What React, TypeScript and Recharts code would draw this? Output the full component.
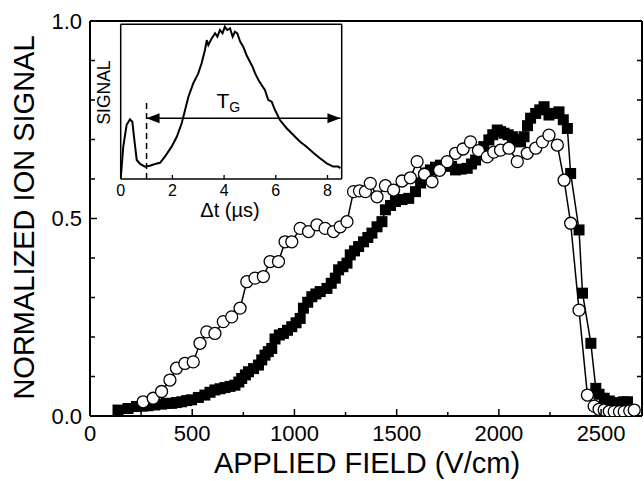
import React from "react"
import { LineChart, Line, XAxis, YAxis, ReferenceLine, Label } from "recharts"

const FONT = '"Liberation Sans", Arial, Helvetica, sans-serif'

// open circles
const circleField = [260, 309, 350, 391, 423, 464, 505, 538, 571, 611, 652, 693, 734, 767, 807, 848, 881, 922, 954, 987, 1028, 1069, 1110, 1150, 1191, 1224, 1257, 1289, 1318, 1347, 1371, 1404, 1445, 1485, 1526, 1567, 1600, 1636, 1673, 1710, 1747, 1788, 1825, 1861, 1900, 1943, 1975, 2008, 2049, 2090, 2139, 2180, 2213, 2245, 2286, 2319, 2351, 2392, 2433, 2466, 2490, 2515, 2540, 2564, 2590, 2613, 2640, 2662]
const circleSignal = [0.036, 0.045, 0.062, 0.091, 0.121, 0.133, 0.137, 0.184, 0.213, 0.209, 0.239, 0.251, 0.273, 0.34, 0.349, 0.353, 0.391, 0.391, 0.441, 0.441, 0.475, 0.467, 0.484, 0.475, 0.467, 0.479, 0.492, 0.568, 0.57, 0.568, 0.589, 0.555, 0.583, 0.572, 0.595, 0.603, 0.644, 0.612, 0.593, 0.622, 0.644, 0.665, 0.676, 0.694, 0.672, 0.656, 0.668, 0.673, 0.678, 0.644, 0.665, 0.678, 0.694, 0.711, 0.686, 0.597, 0.488, 0.268, 0.053, 0.025, 0.017, 0.015, 0.012, 0.011, 0.011, 0.011, 0.013, 0.015]

// filled squares
const squareField = [137, 186, 227, 256, 284, 317, 350, 374, 399, 423, 448, 473, 497, 530, 562, 587, 611, 636, 660, 685, 709, 728, 742, 760, 775, 800, 824, 840, 856, 872, 889, 905, 926, 946, 966, 987, 1008, 1028, 1044, 1065, 1085, 1105, 1126, 1159, 1180, 1200, 1216, 1237, 1257, 1273, 1294, 1314, 1338, 1359, 1379, 1404, 1428, 1445, 1470, 1494, 1526, 1559, 1592, 1617, 1633, 1649, 1665, 1690, 1714, 1747, 1768, 1788, 1815, 1845, 1866, 1886, 1906, 1926, 1951, 1970, 1992, 2008, 2025, 2045, 2066, 2086, 2106, 2123, 2140, 2155, 2180, 2200, 2221, 2245, 2270, 2294, 2315, 2335, 2351, 2392, 2409, 2450, 2474, 2490, 2515, 2540, 2564, 2590, 2610, 2629]
const squareSignal = [0.015, 0.019, 0.024, 0.025, 0.026, 0.028, 0.03, 0.032, 0.032, 0.034, 0.036, 0.039, 0.041, 0.047, 0.053, 0.06, 0.066, 0.069, 0.072, 0.075, 0.078, 0.086, 0.095, 0.104, 0.112, 0.12, 0.129, 0.142, 0.154, 0.163, 0.171, 0.195, 0.205, 0.209, 0.217, 0.226, 0.236, 0.247, 0.273, 0.288, 0.302, 0.309, 0.315, 0.323, 0.336, 0.349, 0.37, 0.378, 0.387, 0.408, 0.418, 0.429, 0.441, 0.452, 0.463, 0.479, 0.492, 0.522, 0.533, 0.543, 0.548, 0.551, 0.568, 0.59, 0.606, 0.615, 0.623, 0.63, 0.635, 0.64, 0.632, 0.623, 0.625, 0.627, 0.638, 0.648, 0.665, 0.682, 0.699, 0.712, 0.724, 0.72, 0.716, 0.712, 0.707, 0.7, 0.694, 0.707, 0.735, 0.754, 0.766, 0.775, 0.783, 0.762, 0.766, 0.77, 0.75, 0.728, 0.614, 0.471, 0.311, 0.184, 0.07, 0.055, 0.045, 0.038, 0.032, 0.034, 0.036, 0.036]

// inset: signal vs delta t (us)
const insetTime = [0, 0.1, 0.23, 0.36, 0.45, 0.53, 0.62, 0.75, 0.94, 1.13, 1.33, 1.52, 1.71, 1.84, 1.97, 2.17, 2.36, 2.49, 2.62, 2.81, 3.0, 3.13, 3.26, 3.33, 3.39, 3.52, 3.65, 3.74, 3.84, 3.94, 4.03, 4.12, 4.23, 4.33, 4.42, 4.51, 4.62, 4.74, 4.87, 5.0, 5.1, 5.2, 5.33, 5.45, 5.58, 5.71, 5.84, 5.97, 6.16, 6.42, 6.68, 6.94, 7.19, 7.45, 7.71, 7.97, 8.22, 8.42, 8.5]
const insetSignal = [0, 0.21, 0.35, 0.386, 0.37, 0.25, 0.123, 0.097, 0.08, 0.086, 0.097, 0.105, 0.144, 0.177, 0.209, 0.273, 0.36, 0.446, 0.532, 0.619, 0.683, 0.748, 0.834, 0.898, 0.866, 0.909, 0.942, 0.92, 0.963, 0.942, 0.985, 0.963, 0.974, 0.92, 0.952, 0.942, 0.888, 0.855, 0.8, 0.758, 0.726, 0.683, 0.64, 0.608, 0.575, 0.511, 0.5, 0.446, 0.381, 0.328, 0.284, 0.241, 0.209, 0.17, 0.134, 0.101, 0.08, 0.08, 0.069]

const fieldTicks = [0, 250, 500, 750, 1000, 1250, 1500, 1750, 2000, 2250, 2500]
const signalTicks = [0, 0.1, 0.2, 0.3, 0.4, 0.5, 0.6, 0.7, 0.8, 0.9, 1.0]
const insetTicks = [0, 2, 4, 6, 8]
const gateStart = 1
const gateEnd = 8.5
const gateLevel = 0.392

const circles = circleField.map((x, i) => ({ x, y: circleSignal[i] }))
const squares = squareField.map((x, i) => ({ x, y: squareSignal[i] }))
const trace = insetTime.map((t, i) => ({ t, s: insetSignal[i] }))

function FieldTick(props: any) {
  const { x, y, payload, side } = props
  const v = payload.value
  const major = v % 500 === 0
  const len = major ? 7 : 4
  const dir = side === "top" ? 1 : -1
  return (
    <g>
      <line x1={x} x2={x} y1={y} y2={y + dir * len} stroke="#000" strokeWidth={1.5} />
      {side === "bottom" && major && (
        <text x={x} y={y + 25} textAnchor="middle" fontSize={22} fontFamily={FONT} fill="#000">{v}</text>
      )}
    </g>
  )
}

function SignalTick(props: any) {
  const { x, y, payload, side } = props
  const v = payload.value
  const major = Math.abs(v * 2 - Math.round(v * 2)) < 1e-6
  const dir = side === "left" ? 1 : -1
  return (
    <g>
      <line x1={x} x2={x + dir * (major ? 7 : 5)} y1={y} y2={y} stroke="#000" strokeWidth={1.5} />
      {side === "left" && major && (
        <text x={x - 8} y={y} dy="0.36em" textAnchor="end" fontSize={22} fontFamily={FONT} fill="#000">{v.toFixed(1)}</text>
      )}
    </g>
  )
}

function InsetTick(props: any) {
  const { x, y, payload } = props
  return (
    <g>
      <line x1={x} x2={x} y1={y} y2={y - 4} stroke="#000" strokeWidth={1.3} />
      <text x={x} y={y + 16.5} textAnchor="middle" fontSize={16} fontFamily={FONT} fill="#000">{payload.value}</text>
    </g>
  )
}

const squareDot = (p: any) => (
  <rect key={`s${p.index}`} x={p.cx - 5.5} y={p.cy - 5.5} width={11} height={11} fill="#000" />
)
const circleDot = (p: any) => (
  <circle key={`c${p.index}`} cx={p.cx} cy={p.cy} r={6} fill="#fff" stroke="#000" strokeWidth={1.3} />
)

const gateArrow = (p: any) => {
  const { x1, y1, x2, y2 } = p
  return (
    <g>
      <line x1={x1} y1={y1} x2={x2} y2={y2} stroke="#000" strokeWidth={1.5} />
      <path d={`M${x1},${y1} L${x1 + 13},${y1 - 5} L${x1 + 13},${y1 + 5} Z`} fill="#000" />
      <path d={`M${x2},${y2} L${x2 - 13},${y2 - 5} L${x2 - 13},${y2 + 5} Z`} fill="#000" />
      <text x={(x1 + x2) / 2 - 27} y={y1 - 10} fontSize={21} fontFamily={FONT} fill="#000">
        T<tspan fontSize={14} dy={4}>G</tspan>
      </text>
    </g>
  )
}

const axisStyle = { stroke: "#000", strokeWidth: 2 }
const insetAxis = { stroke: "#000", strokeWidth: 1.5 }

export default function App() {
  return (
    <div style={{ position: "absolute", left: 0, top: 0, width: 644, height: 481, background: "#fff" }}>
      <div style={{ position: "absolute", left: 0, top: 0 }}>
        <LineChart width={644} height={481} margin={{ top: 0, right: 0, bottom: 0, left: 0 }}>
          <XAxis xAxisId="b" type="number" dataKey="x" domain={[0, 2700]} ticks={fieldTicks} interval={0}
            height={65} tickSize={0} tickMargin={0} tickLine={false} axisLine={axisStyle} allowDataOverflow
            tick={(p: any) => <FieldTick {...p} side="bottom" />}
            label={<Label content={() => (
              <text x={367} y={473} textAnchor="middle" fontSize={29} fontFamily={FONT} fill="#000">APPLIED FIELD (V/cm)</text>
            )} />} />
          <XAxis xAxisId="t" orientation="top" type="number" domain={[0, 2700]} ticks={fieldTicks} interval={0}
            height={21} tickSize={0} tickMargin={0} tickLine={false} axisLine={axisStyle} allowDataOverflow
            tick={(p: any) => <FieldTick {...p} side="top" />} />
          <YAxis yAxisId="l" type="number" domain={[0, 1]} ticks={signalTicks} interval={0}
            width={90} tickSize={0} tickMargin={0} tickLine={false} axisLine={axisStyle} allowDataOverflow
            tick={(p: any) => <SignalTick {...p} side="left" />}
            label={<Label content={() => (
              <text transform="translate(23.5,217.5) rotate(-90)" dy="0.36em" textAnchor="middle" fontSize={29} fontFamily={FONT} fill="#000">NORMALIZED ION SIGNAL</text>
            )} />} />
          <YAxis yAxisId="r" orientation="right" type="number" domain={[0, 1]} ticks={signalTicks} interval={0}
            width={2} tickSize={0} tickMargin={0} tickLine={false} axisLine={axisStyle} allowDataOverflow
            tick={(p: any) => <SignalTick {...p} side="right" />} />
          <Line data={squares} dataKey="y" xAxisId="b" yAxisId="l" type="linear" stroke="#000" strokeWidth={1.5}
            dot={squareDot} activeDot={false} isAnimationActive={false} />
          <Line data={circles} dataKey="y" xAxisId="b" yAxisId="l" type="linear" stroke="#000" strokeWidth={1.5}
            dot={circleDot} activeDot={false} isAnimationActive={false} />
        </LineChart>
      </div>
      <div style={{ position: "absolute", left: 80, top: 0 }}>
        <LineChart width={280} height={230} margin={{ top: 0, right: 0, bottom: 0, left: 0 }}>
          <XAxis xAxisId="b" type="number" dataKey="t" domain={[0, 8.55]} ticks={insetTicks} interval={0}
            height={51} tickSize={0} tickMargin={0} tickLine={false} axisLine={insetAxis} allowDataOverflow
            tick={(p: any) => <InsetTick {...p} />}
            label={<Label content={() => (
              <text x={150} y={216.5} textAnchor="middle" fontSize={20} fontFamily={FONT} fill="#000">Δt (µs)</text>
            )} />} />
          <XAxis xAxisId="t" orientation="top" type="number" domain={[0, 8.55]} height={24.3} tick={false}
            tickLine={false} axisLine={insetAxis} allowDataOverflow />
          <YAxis yAxisId="l" type="number" domain={[0, 1]} width={40.7} tick={false} tickLine={false}
            axisLine={insetAxis} allowDataOverflow
            label={<Label content={() => (
              <text transform="translate(23.3,92.5) rotate(-90)" dy="0.36em" textAnchor="middle" fontSize={17.5} fontFamily={FONT} fill="#000">SIGNAL</text>
            )} />} />
          <YAxis yAxisId="r" orientation="right" type="number" domain={[0, 1]} width={18.3} tick={false}
            tickLine={false} axisLine={insetAxis} allowDataOverflow />
          <Line data={trace} dataKey="s" xAxisId="b" yAxisId="l" type="linear" stroke="#000" strokeWidth={2}
            dot={false} activeDot={false} isAnimationActive={false} />
          <ReferenceLine xAxisId="b" yAxisId="l" segment={[{ x: gateStart, y: 0 }, { x: gateStart, y: 0.5 }]}
            stroke="#000" strokeWidth={1.5} strokeDasharray="6 4" />
          <ReferenceLine xAxisId="b" yAxisId="l" segment={[{ x: gateStart, y: gateLevel }, { x: gateEnd, y: gateLevel }]}
            shape={gateArrow} />
        </LineChart>
      </div>
    </div>
  )
}
